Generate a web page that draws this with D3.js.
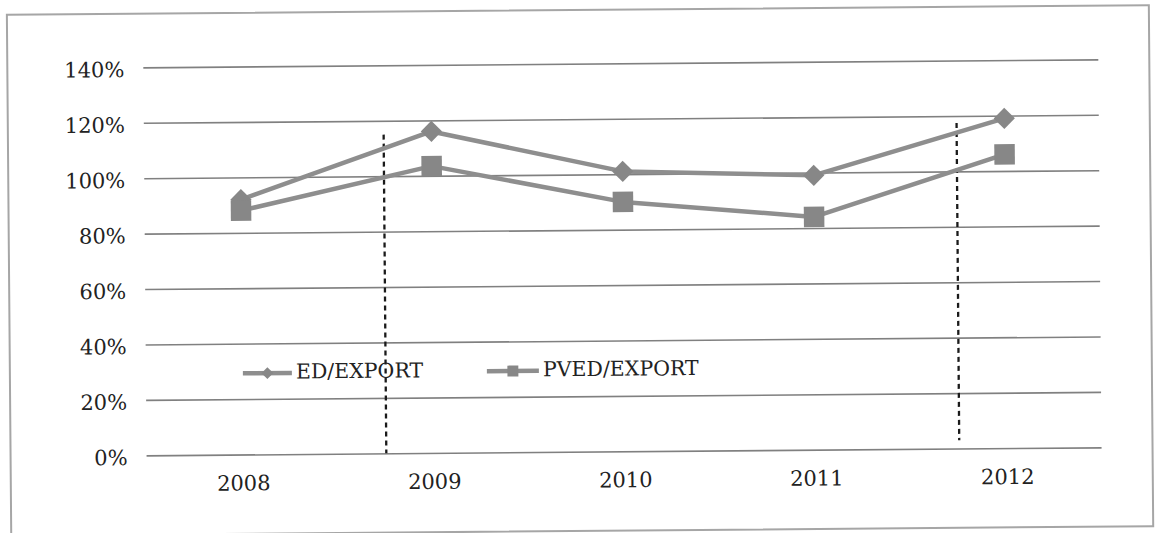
<!DOCTYPE html>
<html>
<head>
<meta charset="utf-8">
<script src="https://cdn.jsdelivr.net/npm/d3@7"></script>
<style>
  html, body { margin: 0; padding: 0; background: #fff; }
  svg { display: block; }
  text { font-family: "DejaVu Serif", "Liberation Serif", serif; fill: #222; }
</style>
</head>
<body>
<svg id="chart" width="1158" height="533"></svg>
<script>
// Years on the category axis
const years = ["2008", "2009", "2010", "2011", "2012"];
// Ratios in percent
const edExport = [92, 116, 101, 99, 119];
const pvedExport = [88, 103.5, 90, 84, 106];
// Value-axis ticks
const yTicks = [0, 20, 40, 60, 80, 100, 120, 140];
// Series names for the legend
const seriesNames = ["ED/EXPORT", "PVED/EXPORT"];
// Dotted period dividers: position in years, top and bottom in percent
const dividerYears = [2008.75, 2011.75];
const dividerTop = [115, 117.5];
const dividerBottom = [0, 3];

const W = 1158, H = 533;
const plot = { left: 145, right: 1100, top: 63.7, bottom: 451.7 };

const svg = d3.select("#chart");
svg.append("rect").attr("width", W).attr("height", H).attr("fill", "#fff");

// The whole sheet sits at a slight tilt
const g = svg.append("g").attr("transform", "rotate(-0.48, 579, 266)");

// Outer frame
g.append("rect")
  .attr("x", 9).attr("y", 10).attr("width", 1142).attr("height", 521)
  .attr("fill", "none").attr("stroke", "#a6a6a6").attr("stroke-width", 2);

const x = d3.scalePoint().domain(years).range([plot.left + 1, plot.right + 1]).padding(0.5);
const y = d3.scaleLinear().domain([0, 140]).range([plot.bottom, plot.top]);

// Year position on a continuous scale for the dividers
const xYear = d3.scaleLinear()
  .domain([+years[0], +years[years.length - 1]])
  .range([x(years[0]), x(years[years.length - 1])]);

// Value axis with gridlines
const yAxis = d3.axisLeft(y)
  .tickValues(yTicks)
  .tickSize(-(plot.right - plot.left))
  .tickPadding(19)
  .tickFormat(d => d + "%");

const yg = g.append("g").attr("transform", `translate(${plot.left},0)`).call(yAxis);
yg.select(".domain").remove();
yg.selectAll(".tick line").attr("stroke", "#808080").attr("stroke-width", 1.6);
yg.selectAll(".tick text")
  .attr("dy", "0.43em")
  .style("font-size", "21px")
  .style("font-family", "'DejaVu Serif', serif")
  .attr("fill", "#262626");

// Category axis
const xAxis = d3.axisBottom(x).tickSize(0).tickPadding(21);
const xg = g.append("g").attr("transform", `translate(0,${plot.bottom})`).call(xAxis);
xg.select(".domain").remove();
xg.selectAll(".tick text")
  .style("font-size", "21px")
  .style("font-family", "'DejaVu Serif', serif")
  .attr("fill", "#262626");

// Dotted dividers
g.append("g").selectAll("line")
  .data(dividerYears)
  .join("line")
  .attr("x1", d => xYear(d)).attr("x2", d => xYear(d))
  .attr("y1", (d, i) => y(dividerTop[i]))
  .attr("y2", (d, i) => y(dividerBottom[i]))
  .attr("stroke", "#1a1a1a").attr("stroke-width", 2.3)
  .attr("stroke-dasharray", "5,4");

const lineColor = "#8e8e8e";
const markColor = "#878787";

const line = d3.line().x((d, i) => x(years[i])).y(d => y(d));

const diamond = d3.symbol().type(d3.symbolSquare).size(225);
const square = d3.symbol().type(d3.symbolSquare).size(420);

[edExport, pvedExport].forEach((vals) => {
  g.append("path")
    .datum(vals)
    .attr("d", line)
    .attr("fill", "none")
    .attr("stroke", lineColor)
    .attr("stroke-width", 4.5)
    .attr("stroke-linejoin", "round");
});

// ED/EXPORT markers: diamonds
g.append("g").selectAll("path")
  .data(edExport)
  .join("path")
  .attr("d", diamond)
  .attr("transform", (d, i) => `translate(${x(years[i])},${y(d)}) rotate(45)`)
  .attr("fill", markColor);

// PVED/EXPORT markers: squares
g.append("g").selectAll("path")
  .data(pvedExport)
  .join("path")
  .attr("d", square)
  .attr("transform", (d, i) => `translate(${x(years[i])},${y(d)})`)
  .attr("fill", markColor);

// Legend
const legend = g.append("g");
const legendItems = [
  { name: seriesNames[0], x0: 242, x1: 291, sym: d3.symbol().type(d3.symbolSquare).size(70), rot: 45 },
  { name: seriesNames[1], x0: 486, x1: 538, sym: d3.symbol().type(d3.symbolSquare).size(120), rot: 0 }
];
const legendY = 370.5;
legendItems.forEach(it => {
  legend.append("line")
    .attr("x1", it.x0).attr("x2", it.x1)
    .attr("y1", legendY).attr("y2", legendY)
    .attr("stroke", lineColor).attr("stroke-width", 4.5);
  legend.append("path")
    .attr("d", it.sym)
    .attr("transform", `translate(${(it.x0 + it.x1) / 2},${legendY}) rotate(${it.rot})`)
    .attr("fill", markColor);
  legend.append("text")
    .attr("x", it.x1 + 4)
    .attr("y", legendY + 5.5)
    .style("font-size", "20.5px")
    .style("font-family", "'DejaVu Serif', serif")
    .attr("fill", "#1e1e1e")
    .text(it.name);
});
</script>
</body>
</html>
